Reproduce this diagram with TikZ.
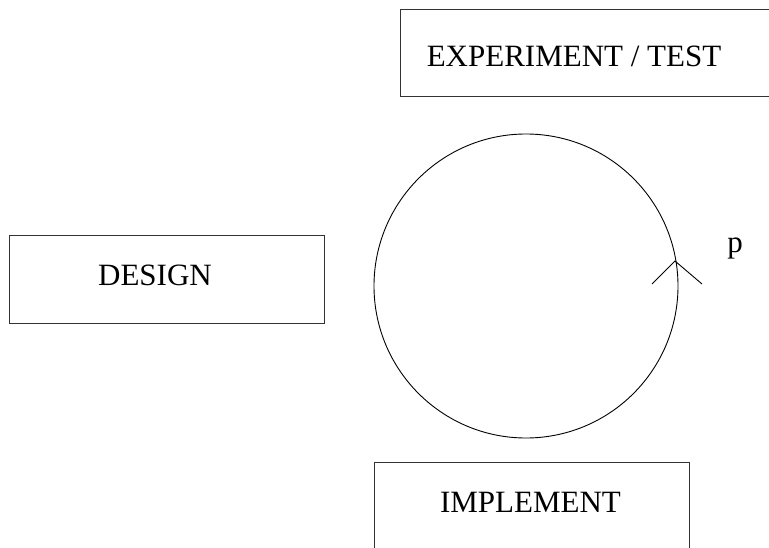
\documentclass[tikz,border=0pt]{standalone}
\usepackage{fontspec}
\setmainfont{Liberation Serif}
\begin{document}
\begin{tikzpicture}[x=1pt,y=-1pt,
  boxshape/.style={draw=black!80, line width=0.9pt, rectangle, inner sep=0pt},
  lbl/.style={anchor=base, inner sep=0pt, font=\fontsize{31}{36}\selectfont},
  thin line/.style={line width=0.9pt}]
\useasboundingbox (0,0) rectangle (769,548);
\clip (0,0) rectangle (769,548);
% boxes
\node[boxshape, minimum width=400pt, minimum height=87pt, anchor=north west] (exp) at (400,9) {};
\node[lbl] (explbl) at (574,67) {EXPERIMENT / TEST};
\node[boxshape, minimum width=315pt, minimum height=88pt, anchor=north west] (design) at (9,235) {};
\node[lbl] (designlbl) at (155,286) {DESIGN};
\node[boxshape, minimum width=315pt, minimum height=120pt, anchor=north west] (impl) at (374,462) {};
\node[lbl] (impllbl) at (530.5,512) {IMPLEMENT};
% circle
\node[draw, circle, line width=0.9pt, minimum size=304pt, inner sep=0pt] (cyc) at (526,286) {};
% chevron
\coordinate (apex) at (675,261);
\coordinate (cl) at (652,284);
\coordinate (cr) at (702,284);
\draw[thin line] (cl) -- (apex) -- (cr);
\node[lbl] (plbl) at (735,253) {p};
\end{tikzpicture}
\end{document}
